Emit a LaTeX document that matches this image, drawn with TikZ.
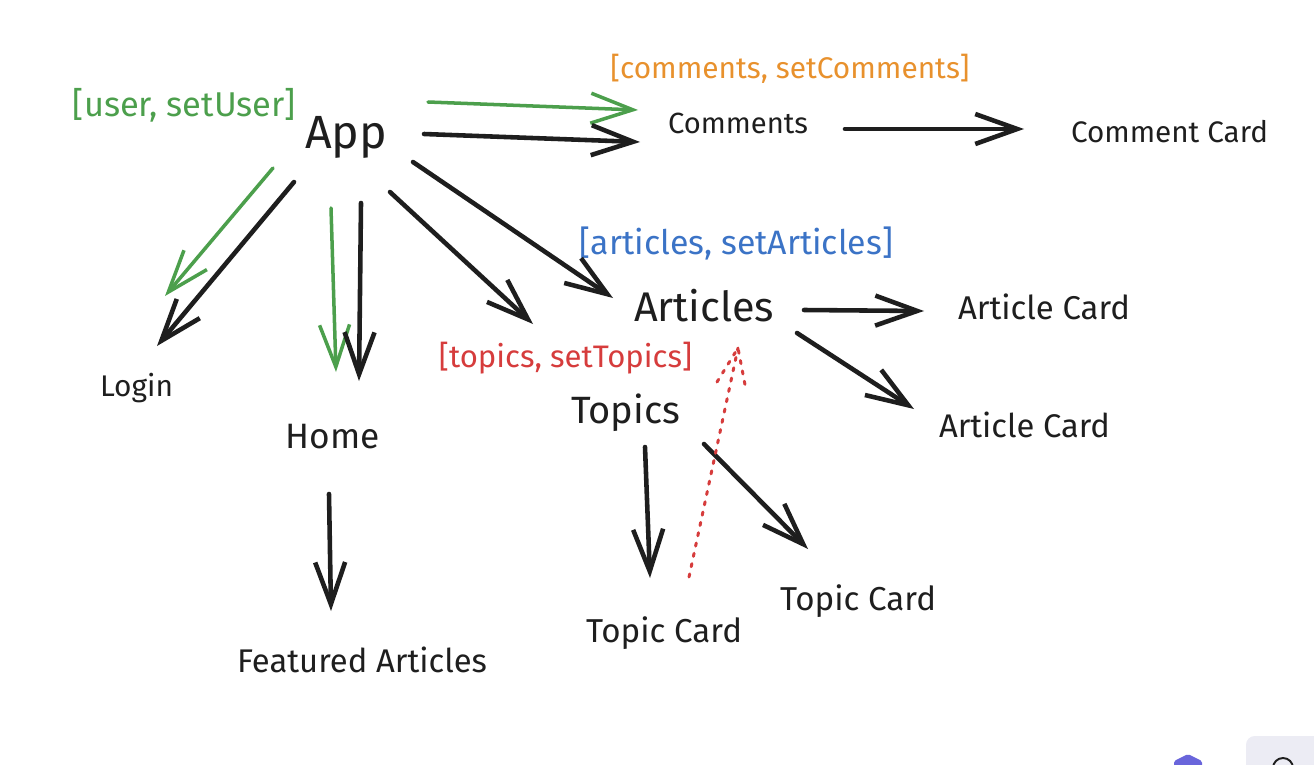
\documentclass[tikz,border=0pt]{standalone}
\usepackage{fontspec}
\setmainfont{Fira Sans}
\usepackage{graphicx}
\usetikzlibrary{arrows.meta}
\definecolor{ink}{HTML}{1E1E1E}
\definecolor{cgreen}{HTML}{4C9F4C}
\definecolor{corange}{HTML}{E8912D}
\definecolor{cblue}{HTML}{3B73C6}
\definecolor{cred}{HTML}{D63C3C}
\definecolor{cpurple}{HTML}{6965DB}
\definecolor{cgray}{HTML}{ECECF4}
\newdimen\pxunit \pxunit=0.02cm
\newcommand\fw[2]{\resizebox{#1\pxunit}{!}{#2}}
\tikzset{
  lbl/.style={inner sep=0pt, text=ink},
  arr/.style={draw=ink, line width=2.6pt, line cap=round, line join=round,
    -{Straight Barb[length=0.84cm,width=0.6cm]}},
  garr/.style={arr, draw=cgreen, line width=2pt},
  dotarr/.style={draw=cred, line width=1.7pt, line cap=round, dash pattern=on 1.8pt off 4.2pt},
}
\begin{document}
\begin{tikzpicture}[x=0.02cm,y=-0.02cm]
\useasboundingbox (0,0) rectangle (1314,764);
% labels
\node[lbl, text=cgreen] (userlbl) at (184.5,105) {\fw{223}{[user, setUser]}};
\node[lbl] (app) at (346,137) {\fw{82}{App}};
\node[lbl, text=corange] (commentslbl) at (790,69) {\fw{359}{[comments, setComments]}};
\node[lbl] (comments) at (738,123) {\fw{140}{Comments}};
\node[lbl] (commentcard) at (1169.5,132) {\fw{197}{Comment Card}};
\node[lbl, text=cblue] (articleslbl) at (736.5,244) {\fw{313}{[articles, setArticles]}};
\node[lbl] (articles) at (704,306) {\fw{140}{Articles}};
\node[lbl] (articlecard1) at (1044,307) {\fw{172}{Article Card}};
\node[lbl] (articlecard2) at (1024.5,425) {\fw{171}{Article Card}};
\node[lbl, text=cred] (topicslbl) at (565.5,358) {\fw{253}{[topics, setTopics]}};
\node[lbl] (topics) at (625.5,413) {\fw{109}{Topics}};
\node[lbl] (login) at (136.5,388) {\fw{73}{Login}};
\node[lbl] (home) at (333,437) {\fw{94}{Home}};
\node[lbl] (featured) at (362,660) {\fw{250}{Featured Articles}};
\node[lbl] (topiccard1) at (664,633) {\fw{156}{Topic Card}};
\node[lbl] (topiccard2) at (858,601) {\fw{156}{Topic Card}};
% connector end points
\coordinate (app-comments-g-s) at (428,102);
\coordinate (app-comments-g-e) at (638,110);
\coordinate (app-comments-s) at (424,134);
\coordinate (app-comments-e) at (640,142);
\coordinate (comments-card-s) at (845,129);
\coordinate (comments-card-e) at (1024,129);
\coordinate (app-login-g-s) at (273,168);
\coordinate (app-login-g-e) at (165,296);
\coordinate (app-login-s) at (294,182);
\coordinate (app-login-e) at (157,346);
\coordinate (app-home-g-s) at (331,208);
\coordinate (app-home-g-e) at (336,372);
\coordinate (app-home-s) at (361,203);
\coordinate (app-home-e) at (359,381);
\coordinate (app-topics-s) at (390,192);
\coordinate (app-topics-e) at (533,324);
\coordinate (app-articles-s) at (413,162);
\coordinate (app-articles-e) at (613,298);
\coordinate (articles-card1-s) at (804,310);
\coordinate (articles-card1-e) at (924,311);
\coordinate (articles-card2-s) at (797,333);
\coordinate (articles-card2-e) at (914,409);
\coordinate (topics-card1-s) at (645,447);
\coordinate (topics-card1-e) at (650,578);
\coordinate (topics-card2-s) at (704,444);
\coordinate (topics-card2-e) at (808,549);
\coordinate (home-featured-s) at (329,494);
\coordinate (home-featured-e) at (331,611);
\coordinate (card1-articles-s) at (689,577);
\coordinate (card1-articles-e) at (738,348);
\coordinate (card1-articles-b1) at (717,382);
\coordinate (card1-articles-b2) at (746,390);
% connectors
\draw[garr] (app-comments-g-s) -- (app-comments-g-e);
\draw[arr] (app-comments-s) -- (app-comments-e);
\draw[arr] (comments-card-s) -- (comments-card-e);
\draw[garr] (app-login-g-s) -- (app-login-g-e);
\draw[arr] (app-login-s) -- (app-login-e);
\draw[garr] (app-home-g-s) -- (app-home-g-e);
\draw[arr] (app-home-s) -- (app-home-e);
\draw[arr] (app-topics-s) -- (app-topics-e);
\draw[arr] (app-articles-s) -- (app-articles-e);
\draw[arr] (articles-card1-s) -- (articles-card1-e);
\draw[arr] (articles-card2-s) -- (articles-card2-e);
\draw[arr] (topics-card1-s) -- (topics-card1-e);
\draw[arr] (topics-card2-s) -- (topics-card2-e);
\draw[arr] (home-featured-s) -- (home-featured-e);
\draw[dotarr] (card1-articles-s) -- (card1-articles-e);
\draw[dotarr] (card1-articles-b1) -- (card1-articles-e) -- (card1-articles-b2);
% bottom-right interface fragments
\begin{scope}
\clip (0,0) rectangle (1314,764);
\fill[cpurple, rounded corners=1pt] (1188,754) -- (1202,761) -- (1202,790) -- (1174,790) -- (1174,761) -- cycle;
\fill[cgray, rounded corners=5pt] (1246,736) rectangle (1340,800);
\draw[ink, line width=1.1pt] (1283,768) circle[radius=0.2cm];
\end{scope}
\end{tikzpicture}
\end{document}
